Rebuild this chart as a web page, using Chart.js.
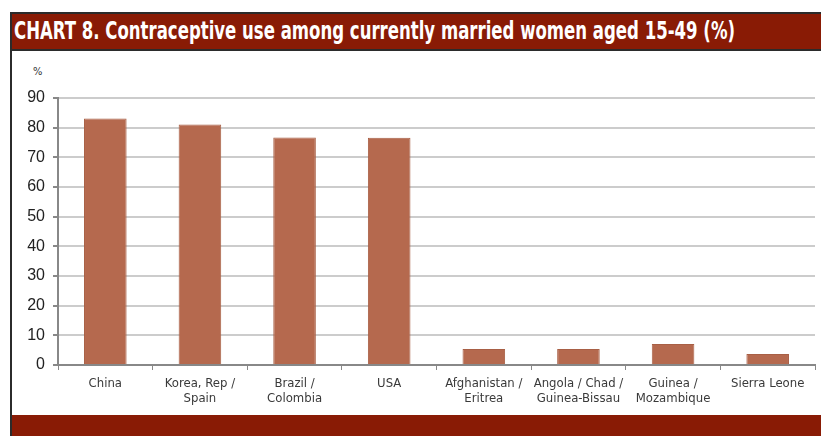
<!DOCTYPE html>
<html>
<head>
<meta charset="utf-8">
<script src="https://cdn.jsdelivr.net/npm/chart.js@4.4.1/dist/chart.umd.min.js"></script>
<style>
    body { margin: 0; background: #fff; width: 821px; height: 436px; overflow: hidden; position: relative; }
    #borda { position: absolute; left: 10px; top: 12px; width: 820px; height: 430px; border-left: 2px solid #2b2b2b; border-top: 2px solid #2b2b2b; }
    #cabecalho { position: absolute; left: 12px; top: 14px; width: 820px; height: 35px; background: #891b05; border-bottom: 2px solid #2b2b2b; }
    #titulo { position: absolute; left: 2px; top: 2px; color: #fff; font-family: "Liberation Sans Narrow", "DejaVu Sans Condensed", Arial, sans-serif; font-weight: bold; font-size: 25px; white-space: nowrap; transform-origin: left top; }
    #rodape { position: absolute; left: 12px; top: 415px; width: 820px; height: 21px; background: #891b05; }
    #unidade { position: absolute; left: 33px; top: 65px; font-family: "DejaVu Sans Condensed", Arial, sans-serif; font-size: 11px; color: #333; }
    #grafico { position: absolute; left: 12px; top: 53px; width: 809px; height: 362px; }
</style>
</head>
<body>
<div id="borda"></div>
<div id="cabecalho"><div id="titulo">CHART 8. Contraceptive use among currently married women aged 15-49 (%)</div></div>
<div id="unidade">%</div>
<div id="grafico"><canvas id="myChart"></canvas></div>
<div id="rodape"></div>

<script>
    // Dados
    var paises = [
        "China",
        ["Korea, Rep /", "Spain"],
        ["Brazil /", "Colombia"],
        "USA",
        ["Afghanistan /", "Eritrea"],
        ["Angola / Chad /", "Guinea-Bissau"],
        ["Guinea /", "Mozambique"],
        "Sierra Leone"
    ];
    var usoContraceptivo = [83.1, 81.1, 76.7, 76.6, 5.4, 5.4, 7.1, 3.7];
    var yMin = 0;
    var yMax = 90;
    var yPasso = 10;

    // ajusta a largura do título ao original
    var titulo = document.getElementById('titulo');
    var larguraAlvo = 721;
    titulo.style.transform = 'scaleX(' + (larguraAlvo / titulo.offsetWidth) + ')';

    var ctx = document.getElementById('myChart').getContext('2d');
    var myChart = new Chart(ctx, {
        type: 'bar',
        data: {
            labels: paises,
            datasets: [{
                data: usoContraceptivo,
                backgroundColor: '#b5694e',
                borderColor: '#a85f45',
                borderWidth: 1,
                categoryPercentage: 1,
                barPercentage: 0.45
            }]
        },
        options: {
            responsive: true,
            maintainAspectRatio: false,
            animation: false,
            layout: { padding: { top: 45, right: 6, left: 0, bottom: 0 } },
            plugins: {
                legend: { display: false },
                tooltip: { enabled: false }
            },
            scales: {
                x: {
                    offset: true,
                    grid: {
                        offset: true,
                        drawOnChartArea: false,
                        drawTicks: true,
                        tickLength: 5,
                        tickColor: '#888'
                    },
                    border: { color: '#888', width: 2 },
                    ticks: {
                        color: '#3a3a3a',
                        padding: 6,
                        maxRotation: 0,
                        autoSkip: false,
                        font: { family: '"Liberation Sans Narrow", "DejaVu Sans Condensed", Arial, sans-serif', size: 13, lineHeight: 1.15 }
                    },
                    afterFit: function (scale) { scale.height = 50; }
                },
                y: {
                    min: yMin,
                    max: yMax,
                    ticks: {
                        stepSize: yPasso,
                        color: '#222',
                        padding: 8,
                        font: { family: 'Arial, "Liberation Sans", sans-serif', size: 16 }
                    },
                    grid: {
                        color: '#cccccc',
                        lineWidth: 2,
                        tickColor: '#888',
                        tickLength: 5
                    },
                    border: { color: '#888', width: 2 },
                    afterFit: function (scale) { scale.width = 46; }
                }
            }
        }
    });
</script>
</body>
</html>
